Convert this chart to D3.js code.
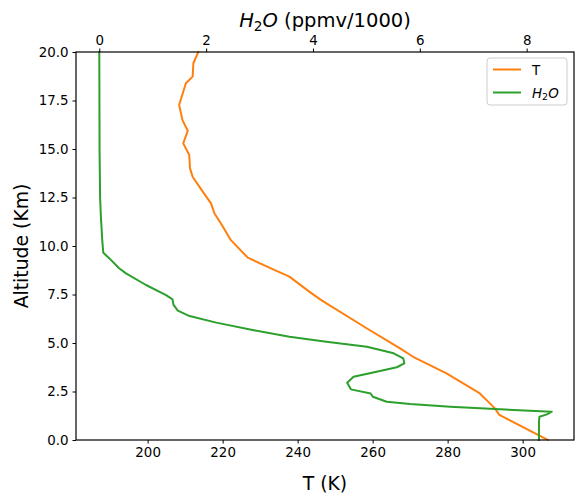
<!DOCTYPE html>
<html>
<head>
<meta charset="utf-8">
<script src="https://cdn.jsdelivr.net/npm/d3@7"></script>
<style>
body { margin: 0; background: #fff; }
text { font-family: "DejaVu Sans", sans-serif; }
</style>
</head>
<body>
<svg id="chart" width="583" height="496"></svg>
<script>
// Temperature profile (K) vs altitude (km)
const tempAlt = [20.0, 19.42, 18.73, 18.39, 17.27, 16.49, 15.94, 15.29, 14.69, 14.0, 13.57, 12.8, 12.2, 11.69, 11.08, 10.3, 9.40, 8.9, 8.42, 7.65, 7.2, 5.76, 4.72, 4.29, 3.43, 2.4, 1.63, 1.29, 0.0];
const tempK   = [213.5, 212.2, 212.0, 210.2, 208.4, 209.3, 210.7, 209.5, 211.1, 211.3, 212.0, 214.7, 216.9, 217.8, 219.8, 222.2, 226.7, 232.3, 237.8, 243.1, 246.4, 258.4, 267.3, 270.8, 279.7, 288.6, 292.6, 293.8, 306.7];
// Water vapour profile (ppmv/1000) vs altitude (km)
const h2oAlt = [20.0, 15.0, 12.5, 11.5, 10.8, 10.3, 9.65, 9.36, 8.85, 8.59, 7.99, 7.47, 7.25, 6.96, 6.67, 6.39, 6.05, 5.67, 5.32, 5.07, 4.81, 4.47, 4.21, 3.95, 3.75, 3.52, 3.26, 2.95, 2.61, 2.4, 2.23, 1.97, 1.86, 1.72, 1.58, 1.46, 1.32, 1.2, 0.94, 0.0];
const h2oVal = [0.0, 0.005, 0.015, 0.03, 0.045, 0.055, 0.075, 0.19, 0.37, 0.50, 0.875, 1.25, 1.37, 1.39, 1.47, 1.69, 2.19, 2.87, 3.56, 4.25, 5.01, 5.51, 5.69, 5.71, 5.57, 5.19, 4.76, 4.64, 4.71, 5.08, 5.12, 5.38, 5.82, 6.57, 7.50, 8.47, 8.38, 8.24, 8.23, 8.23];

const tTicks = [200, 220, 240, 260, 280, 300];
const hTicks = [0, 2, 4, 6, 8];
const altTicks = [0, 2.5, 5, 7.5, 10, 12.5, 15, 17.5, 20];

const colorT = "#ff7f0e";
const colorH = "#2ca02c";

const svg = d3.select("#chart");
const L = 76, R = 574, T = 52, B = 440;

const x = d3.scaleLinear().domain([180.9, 313.7]).range([L, R]);
const x2 = d3.scaleLinear().domain([-0.436, 8.886]).range([L, R]);
const y = d3.scaleLinear().domain([0, 20]).range([B, T]);

const fs = 13.4;

// Lines
const lineT = d3.line().x(d => x(d[0])).y(d => y(d[1]));
svg.append("path")
  .datum(tempK.map((v, i) => [v, tempAlt[i]]))
  .attr("d", lineT)
  .attr("fill", "none").attr("stroke", colorT).attr("stroke-width", 2)
  .attr("stroke-linejoin", "round").attr("stroke-linecap", "square");

const lineH = d3.line().x(d => x2(d[0])).y(d => y(d[1]));
svg.append("path")
  .datum(h2oVal.map((v, i) => [v, h2oAlt[i]]))
  .attr("d", lineH)
  .attr("fill", "none").attr("stroke", colorH).attr("stroke-width", 2)
  .attr("stroke-linejoin", "round").attr("stroke-linecap", "square");

// Axes
function styleAxis(g) {
  g.selectAll("path").remove();
  g.selectAll("line").attr("stroke", "#000").attr("stroke-width", 1);
  g.selectAll("text").attr("font-size", fs).attr("fill", "#000").attr("font-family", "DejaVu Sans");
}

const gx = svg.append("g").attr("transform", `translate(0,${B})`)
  .call(d3.axisBottom(x).tickValues(tTicks).tickSize(3.5).tickPadding(4).tickFormat(d3.format("d")));
styleAxis(gx);

const gx2 = svg.append("g").attr("transform", `translate(0,${T})`)
  .call(d3.axisTop(x2).tickValues(hTicks).tickSize(3.5).tickPadding(4).tickFormat(d3.format("d")));
styleAxis(gx2);

const gy = svg.append("g").attr("transform", `translate(${L},0)`)
  .call(d3.axisLeft(y).tickValues(altTicks).tickSize(3.5).tickPadding(4).tickFormat(d3.format(".1f")));
styleAxis(gy);

// Frame
svg.append("rect").attr("x", L).attr("y", T).attr("width", R - L).attr("height", B - T)
  .attr("fill", "none").attr("stroke", "#000").attr("stroke-width", 1.2);

// Axis labels
svg.append("text").attr("x", (L + R) / 2).attr("y", 490).attr("text-anchor", "middle")
  .attr("font-size", 18.8).text("T (K)");

svg.append("text").attr("transform", `translate(28,${(T + B) / 2}) rotate(-90)`)
  .attr("text-anchor", "middle").attr("font-size", 18.8).text("Altitude (Km)");

const title = svg.append("text").attr("x", (L + R) / 2).attr("y", 27).attr("text-anchor", "middle")
  .attr("font-size", 19.5);
title.append("tspan").attr("font-style", "italic").text("H");
title.append("tspan").attr("font-size", 13.7).attr("dy", 3.5).text("2");
title.append("tspan").attr("font-style", "italic").attr("dy", -3.5).text("O");
title.append("tspan").text(" (ppmv/1000)");

// Legend
const lg = svg.append("g").attr("transform", "translate(487,58)");
lg.append("rect").attr("width", 80).attr("height", 47).attr("rx", 3)
  .attr("fill", "#fff").attr("fill-opacity", 0.8).attr("stroke", "#ccc").attr("stroke-width", 1);
const items = [
  { label: "T", color: colorT },
  { label: "H2O", color: colorH }
];
items.forEach((it, i) => {
  const yy = 11.5 + i * 23;
  lg.append("line").attr("x1", 6).attr("x2", 34).attr("y1", yy).attr("y2", yy)
    .attr("stroke", it.color).attr("stroke-width", 2);
  const t = lg.append("text").attr("x", 45).attr("y", yy + 5).attr("font-size", fs);
  if (it.label === "T") {
    t.text("T");
  } else {
    t.append("tspan").attr("font-style", "italic").text("H");
    t.append("tspan").attr("font-size", 9.5).attr("dy", 2.5).text("2");
    t.append("tspan").attr("font-style", "italic").attr("dy", -2.5).text("O");
  }
});
</script>
</body>
</html>
